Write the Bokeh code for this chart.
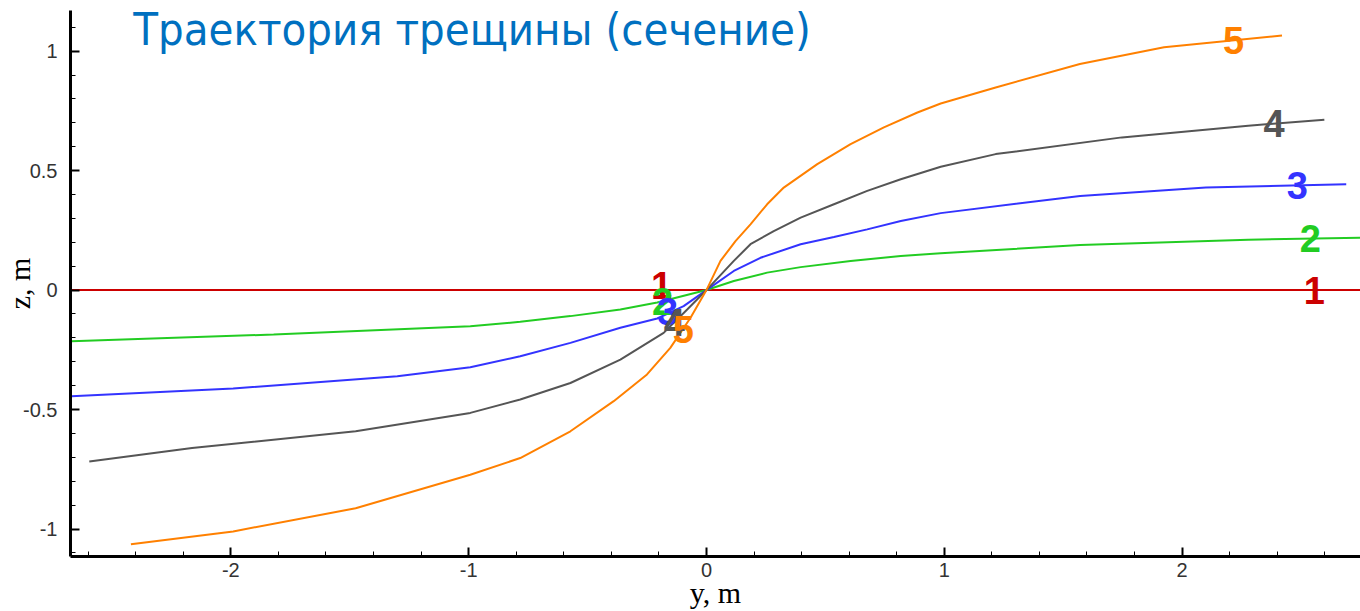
import numpy as np
from bokeh.plotting import figure
from bokeh.models import Range1d, Label, SingleIntervalTicker, PrintfTickFormatter
from bokeh.embed import file_html
from bokeh.resources import INLINE

title_text = "Траектория трещины (сечение)"
x_title = "y, m"
y_title = "z, m"

# crack trajectories: y (m) and z (m)
y1 = [-2.67, 0.0, 2.75]
z1 = [0.0, 0.0, 0.0]

y2 = [-2.67, -1.82, -0.993, -0.783, -0.572, -0.362, -0.207, 0.0,
      0.115, 0.255, 0.396, 0.606, 0.817, 0.985, 1.571, 2.278, 2.75]
z2 = [-0.214, -0.186, -0.151, -0.133, -0.109, -0.081, -0.052, 0.0,
      0.038, 0.073, 0.096, 0.122, 0.143, 0.154, 0.189, 0.211, 0.219]

y3 = [-2.67, -1.99, -1.30, -0.993, -0.783, -0.572, -0.362, -0.207, -0.096, 0.0,
      0.115, 0.227, 0.396, 0.536, 0.676, 0.817, 0.985, 1.571, 2.1, 2.69]
z3 = [-0.444, -0.412, -0.361, -0.323, -0.277, -0.221, -0.158, -0.119, -0.067, 0.0,
      0.08, 0.135, 0.192, 0.222, 0.254, 0.289, 0.322, 0.394, 0.429, 0.443]

y4 = [-2.595, -2.163, -1.475, -0.993, -0.783, -0.572, -0.362, -0.18, -0.081, 0.0,
      0.115, 0.185, 0.283, 0.396, 0.536, 0.676, 0.817, 0.985, 1.216, 1.747, 2.278, 2.598]
z4 = [-0.717, -0.661, -0.591, -0.514, -0.458, -0.389, -0.291, -0.179, -0.081, 0.0,
      0.122, 0.192, 0.247, 0.303, 0.359, 0.415, 0.464, 0.516, 0.569, 0.639, 0.688, 0.713]

y5 = [-2.42, -1.99, -1.475, -0.993, -0.783, -0.572, -0.39, -0.25, -0.152, -0.067, 0.0,
      0.059, 0.122, 0.185, 0.255, 0.325, 0.466, 0.606, 0.746, 0.887, 0.985, 1.216, 1.57, 1.924, 2.42]
z5 = [-1.064, -1.01, -0.913, -0.773, -0.703, -0.591, -0.465, -0.353, -0.242, -0.116, 0.0,
      0.122, 0.205, 0.275, 0.359, 0.429, 0.527, 0.611, 0.681, 0.743, 0.781, 0.848, 0.946, 1.016, 1.065]

names = ["1", "2", "3", "4", "5"]
ys = [y1, y2, y3, y4, y5]
zs = [z1, z2, z3, z4, z5]
colors = ["#CC0000", "#22CC22", "#3333FF", "#555555", "#FF8000"]

# label anchor y-positions (m) and vertical nudges
right_pos = [2.556, 2.539, 2.484, 2.387, 2.216]
left_pos = [-0.189, -0.185, -0.164, -0.135, -0.097]
left_dz = [0.021, 0.0, 0.008, -0.003, -0.005]

p = figure(width=1360, height=611, output_backend="svg", toolbar_location=None,
           x_range=Range1d(-2.674, 2.75), y_range=Range1d(-1.115, 1.17),
           min_border_left=0, min_border_bottom=0, min_border_top=10, min_border_right=0)
p.outline_line_color = None
p.xgrid.visible = False
p.ygrid.visible = False
p.background_fill_color = "white"
p.border_fill_color = "white"

serif = "'Liberation Serif', 'Times New Roman', serif"
for ax in (p.xaxis[0], p.yaxis[0]):
    ax.axis_line_width = 3
    ax.axis_line_color = "black"
    ax.major_tick_in = 9
    ax.major_tick_out = 0
    ax.minor_tick_in = 5
    ax.minor_tick_out = 0
    ax.major_tick_line_width = 2
    ax.minor_tick_line_width = 1
    ax.major_label_text_font = "Liberation Sans"
    ax.major_label_text_font_size = "20px"
    ax.major_label_text_color = "#333333"
    ax.formatter = PrintfTickFormatter(format="%g")
    ax.axis_label_text_font = serif
    ax.axis_label_text_font_style = "normal"
    ax.axis_label_text_font_size = "30px"
    ax.axis_label_text_color = "black"

p.xaxis.ticker = SingleIntervalTicker(interval=1, num_minor_ticks=5)
p.yaxis.ticker = SingleIntervalTicker(interval=0.5, num_minor_ticks=5)
p.xaxis.major_label_standoff = 6
p.yaxis.major_label_standoff = 13
p.xaxis.axis_label = x_title
p.yaxis.axis_label = y_title
p.xaxis.axis_label_standoff = -4
p.yaxis.axis_label_standoff = -16

for name, yy, zz, c in zip(names, ys, zs, colors):
    p.line(yy, zz, line_color=c, line_width=2)

label_font = "'Liberation Sans', Arial, sans-serif"
for i, (name, yy, zz, c) in enumerate(zip(names, ys, zs, colors)):
    zr = float(np.interp(right_pos[i], yy, zz))
    p.add_layout(Label(x=right_pos[i], y=zr, text=name, text_color=c, text_font=label_font,
                       text_font_style="bold", text_font_size="38px", text_align="center",
                       text_baseline="middle"))
    zl = float(np.interp(left_pos[i], yy, zz)) + left_dz[i]
    p.add_layout(Label(x=left_pos[i], y=zl, text=name, text_color=c, text_font=label_font,
                       text_font_style="bold", text_font_size="38px", text_align="center",
                       text_baseline="middle"))

p.add_layout(Label(x=-2.41, y=1.20, text=title_text, text_color="#0070C0",
                   text_font="'Liberation Sans Narrow', 'Arial Narrow', 'DejaVu Sans Condensed', 'Liberation Sans', sans-serif",
                   text_font_size="45px", text_baseline="top", text_align="left"))

open("out.html", "w").write(file_html(p, INLINE))
